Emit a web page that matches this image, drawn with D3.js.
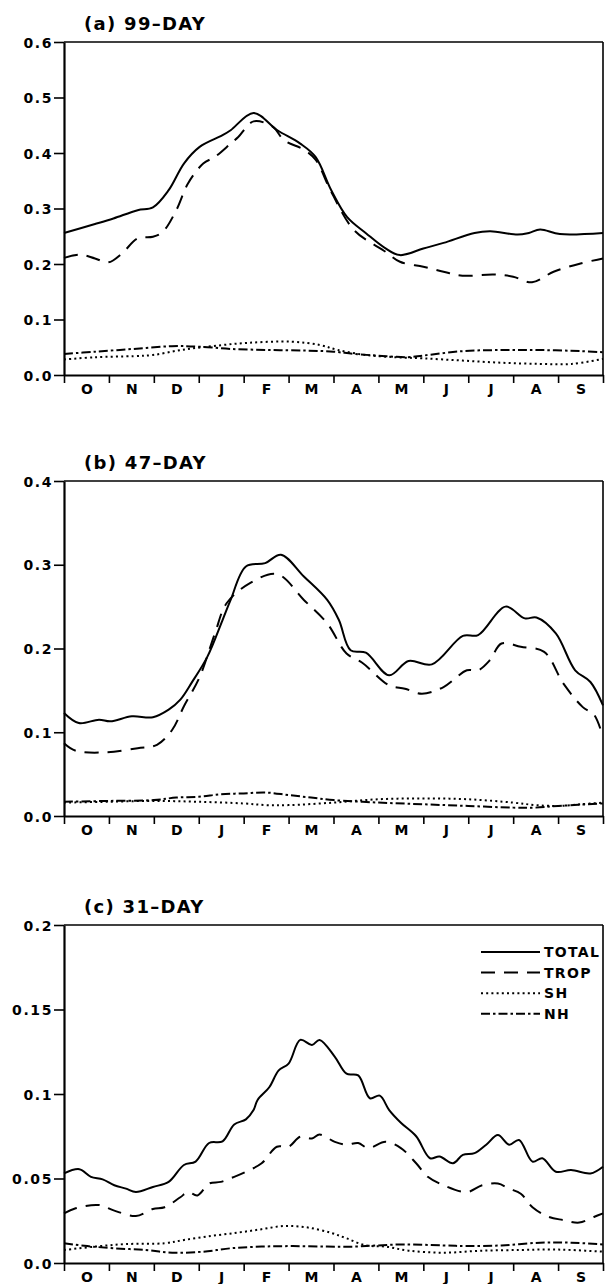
<!DOCTYPE html>
<html><head><meta charset="utf-8">
<script src="https://cdn.jsdelivr.net/npm/d3@7"></script>
<style>
html,body{margin:0;padding:0;background:#fff;}
svg{display:block;}
text{font-family:"DejaVu Sans",sans-serif;font-weight:bold;fill:#000;}
</style></head>
<body>
<script>
// ---- data: x = months since 1 Oct, y = value ----
const months = ["O","N","D","J","F","M","A","M","J","J","A","S"];
const seriesNames = ["TOTAL","TROP","SH","NH"];
const panelTitles = ["(a) 99\u2013DAY","(b) 47\u2013DAY","(c) 31\u2013DAY"];
const yMaxes = [0.6, 0.4, 0.2];
const yTicksA = [0,0.1,0.2,0.3,0.4,0.5,0.6];
const yTicksB = [0,0.1,0.2,0.3,0.4];
const yTicksC = [0,0.05,0.1,0.15,0.2];
const yLabelsA = ["0.0","0.1","0.2","0.3","0.4","0.5","0.6"];
const yLabelsB = ["0.0","0.1","0.2","0.3","0.4"];
const yLabelsC = ["0.0","0.05","0.1","0.15","0.2"];

const totalA = [[0,0.256],[0.69,0.272],[1.1,0.282],[1.64,0.297],[1.98,0.302],[2.33,0.333],[2.67,0.381],[3.02,0.411],[3.53,0.432],[3.71,0.441],[4.22,0.472],[4.75,0.441],[5.26,0.417],[5.6,0.393],[5.95,0.333],[6.3,0.285],[6.73,0.255],[7.16,0.228],[7.48,0.216],[8.0,0.228],[8.45,0.238],[9.14,0.256],[9.49,0.259],[10.1,0.253],[10.35,0.256],[10.6,0.262],[11.04,0.254],[12,0.256]];
const tropA = [[0,0.211],[0.35,0.217],[0.69,0.210],[0.99,0.203],[1.29,0.219],[1.64,0.246],[1.98,0.249],[2.2,0.258],[2.5,0.297],[2.76,0.345],[3.1,0.381],[3.36,0.393],[3.71,0.417],[3.88,0.429],[4.22,0.457],[4.65,0.447],[4.9,0.423],[5.34,0.406],[5.6,0.388],[5.95,0.330],[6.46,0.261],[7.16,0.222],[7.48,0.204],[8.0,0.195],[8.45,0.186],[8.87,0.179],[9.58,0.181],[10.0,0.177],[10.42,0.167],[10.9,0.186],[11.5,0.201],[12,0.210]];
const shA = [[0,0.028],[0.69,0.032],[1.55,0.034],[1.98,0.036],[2.6,0.045],[3.3,0.052],[4.1,0.058],[5.07,0.060],[5.7,0.054],[6.1,0.045],[6.73,0.036],[7.4,0.032],[8.0,0.030],[8.87,0.026],[9.76,0.022],[10.6,0.020],[11.3,0.020],[12,0.029]];
const nhA = [[0,0.038],[0.69,0.042],[1.55,0.047],[2.4,0.052],[3.02,0.051],[3.7,0.047],[4.57,0.045],[5.4,0.044],[6.0,0.042],[6.46,0.038],[7.16,0.034],[7.66,0.032],[8.0,0.035],[8.87,0.043],[9.76,0.045],[10.6,0.045],[11.5,0.043],[12,0.041]];

const totalB = [[0,0.123],[0.33,0.111],[0.78,0.115],[1.03,0.113],[1.51,0.119],[1.98,0.118],[2.33,0.127],[2.59,0.139],[2.84,0.159],[3.19,0.190],[3.53,0.234],[3.71,0.258],[4.05,0.298],[4.48,0.302],[4.83,0.312],[5.34,0.286],[5.86,0.258],[6.12,0.234],[6.38,0.198],[6.72,0.195],[7.24,0.168],[7.67,0.185],[8.19,0.181],[8.88,0.215],[9.22,0.216],[9.83,0.250],[10.26,0.236],[10.52,0.237],[10.95,0.218],[11.38,0.174],[11.72,0.160],[12,0.132]];
const tropB = [[0,0.087],[0.26,0.078],[0.95,0.076],[1.64,0.081],[2.07,0.085],[2.41,0.103],[2.67,0.131],[3.02,0.166],[3.36,0.218],[3.62,0.254],[4.14,0.278],[4.74,0.289],[5.34,0.258],[5.86,0.230],[6.29,0.194],[6.64,0.183],[7.24,0.156],[7.59,0.152],[7.97,0.146],[8.45,0.154],[8.97,0.174],[9.22,0.174],[9.48,0.186],[9.74,0.206],[10.17,0.202],[10.69,0.196],[11.12,0.158],[11.55,0.130],[11.8,0.121],[12,0.094]];
const shB = [[0,0.016],[1,0.017],[2,0.018],[3,0.017],[4,0.015],[4.5,0.013],[5,0.013],[6,0.016],[7,0.020],[8,0.021],[9,0.020],[10,0.016],[10.5,0.013],[11,0.012],[11.5,0.014],[12,0.016]];
const nhB = [[0,0.017],[1,0.018],[2,0.019],[2.5,0.022],[3,0.023],[3.5,0.026],[4,0.027],[4.5,0.028],[5,0.025],[5.5,0.022],[6,0.019],[7,0.016],[8,0.014],[9,0.012],[10,0.010],[10.5,0.010],[11,0.012],[12,0.015]];

const totalC = [[0,0.053],[0.34,0.0555],[0.6,0.051],[0.86,0.0495],[1.12,0.046],[1.38,0.044],[1.6,0.042],[1.98,0.045],[2.33,0.048],[2.67,0.058],[2.93,0.060],[3.23,0.071],[3.53,0.072],[3.79,0.082],[4.05,0.085],[4.22,0.0905],[4.31,0.0965],[4.57,0.104],[4.78,0.114],[5.0,0.118],[5.26,0.132],[5.52,0.129],[5.69,0.132],[6.03,0.122],[6.29,0.112],[6.55,0.111],[6.81,0.0975],[7.03,0.099],[7.24,0.0905],[7.5,0.083],[7.84,0.075],[8.15,0.062],[8.36,0.063],[8.66,0.059],[8.88,0.064],[9.14,0.065],[9.4,0.070],[9.66,0.0757],[9.91,0.070],[10.13,0.0728],[10.43,0.060],[10.65,0.062],[10.95,0.054],[11.29,0.055],[11.72,0.053],[12,0.057]];
const tropC = [[0,0.0294],[0.26,0.0324],[0.78,0.0343],[1.12,0.031],[1.6,0.0278],[1.98,0.032],[2.24,0.033],[2.59,0.0389],[2.76,0.042],[2.97,0.040],[3.23,0.047],[3.49,0.048],[3.79,0.051],[4.05,0.054],[4.4,0.059],[4.74,0.0688],[5.0,0.0688],[5.26,0.0747],[5.52,0.0737],[5.69,0.076],[6.03,0.0717],[6.29,0.070],[6.55,0.071],[6.77,0.068],[7.16,0.0717],[7.5,0.068],[7.84,0.059],[8.1,0.051],[8.45,0.046],[8.97,0.042],[9.31,0.046],[9.66,0.047],[9.91,0.044],[10.17,0.041],[10.43,0.033],[10.78,0.0274],[11.12,0.0254],[11.47,0.0239],[11.81,0.0274],[12,0.0294]];
const shC = [[0,0.0077],[0.69,0.0097],[1.38,0.0112],[2.24,0.0117],[2.67,0.0136],[3.28,0.016],[3.88,0.018],[4.4,0.020],[4.91,0.0219],[5.43,0.021],[5.95,0.0178],[6.29,0.0146],[6.72,0.0104],[7.16,0.0097],[7.67,0.0073],[8.45,0.0061],[9.31,0.0073],[10.17,0.0077],[10.78,0.008],[11.3,0.0077],[12,0.0067]];
const nhC = [[0,0.0117],[0.52,0.010],[1.12,0.0087],[1.81,0.0077],[2.41,0.0061],[3.1,0.0067],[3.71,0.0087],[4.4,0.0097],[5.09,0.010],[5.86,0.0097],[6.47,0.0097],[6.98,0.0104],[7.59,0.011],[8.45,0.0104],[8.97,0.010],[9.74,0.0104],[10.6,0.012],[11.3,0.012],[12,0.011]];

// ---- layout ----
const W = 606, H = 1284;
const left = 64, right = 603;
const panels = [
  {top:42, bottom:375, yMax:yMaxes[0], ticks:yTicksA, labels:yLabelsA, title:panelTitles[0], data:[totalA,tropA,shA,nhA], legend:false},
  {top:481, bottom:816, yMax:yMaxes[1], ticks:yTicksB, labels:yLabelsB, title:panelTitles[1], data:[totalB,tropB,shB,nhB], legend:false},
  {top:925, bottom:1263, yMax:yMaxes[2], ticks:yTicksC, labels:yLabelsC, title:panelTitles[2], data:[totalC,tropC,shC,nhC], legend:true}
];
const dashes = [null, "14,9", "2,3.2", "9,3,2.5,3"];

const svg = d3.select("body").append("svg").attr("width",W).attr("height",H);
const x = d3.scaleLinear().domain([0,12]).range([left,right]);

panels.forEach(p => {
  const y = d3.scaleLinear().domain([0,p.yMax]).range([p.bottom,p.top]);
  const g = svg.append("g");

  // curves
  const line = d3.line().x(d=>x(d[0])).y(d=>y(d[1])).curve(d3.curveCatmullRom.alpha(0.5));
  p.data.forEach((s,i) => {
    g.append("path").datum(s).attr("d",line)
      .attr("fill","none").attr("stroke","#000").attr("stroke-width",2)
      .attr("stroke-linejoin","round")
      .attr("stroke-dasharray",dashes[i]);
  });

  // frame top/right
  g.append("line").attr("x1",left).attr("x2",right).attr("y1",p.top).attr("y2",p.top)
    .attr("stroke","#000").attr("stroke-width",1.6);
  g.append("line").attr("x1",right).attr("x2",right).attr("y1",p.top).attr("y2",p.bottom)
    .attr("stroke","#000").attr("stroke-width",1.6);

  // y axis
  const ya = d3.axisLeft(y).tickValues(p.ticks)
    .tickFormat((d,i)=>p.labels[i]).tickSize(10).tickSizeOuter(0).tickPadding(1);
  const yg = g.append("g").attr("transform",`translate(${left},0)`).call(ya);
  yg.select(".domain").attr("stroke-width",2.2);
  yg.selectAll(".tick line").attr("stroke-width",1.6);
  yg.selectAll("text").style("font-size","14px").style("letter-spacing","1.6px")
    .attr("dy","0.36em").attr("font-family",null).attr("fill","#000");

  // x axis: ticks at month boundaries
  const xa = d3.axisBottom(x).tickValues(d3.range(0,13)).tickFormat("").tickSize(8).tickSizeOuter(0);
  const xg = g.append("g").attr("transform",`translate(0,${p.bottom})`).call(xa);
  xg.select(".domain").attr("stroke-width",2.2);
  xg.selectAll(".tick line").attr("stroke-width",1.6);
  // month labels at mid-month
  const xl = d3.axisBottom(x).tickValues(d3.range(0,12).map(m=>m+0.5))
    .tickFormat((d,i)=>months[i]).tickSize(0).tickPadding(9);
  const xlg = g.append("g").attr("transform",`translate(0,${p.bottom})`).call(xl);
  xlg.select(".domain").remove();
  xlg.selectAll("text").style("font-size","14px").attr("font-family",null).attr("fill","#000");

  // title
  g.append("text").attr("x",84).attr("y",p.top-12).text(p.title)
    .style("font-size","18px").style("letter-spacing","1.3px");

  if (p.legend) {
    const ly0 = 952;
    seriesNames.forEach((n,i) => {
      const yy = ly0 + i*20.6;
      g.append("line").attr("x1",481).attr("x2",540).attr("y1",yy).attr("y2",yy)
        .attr("stroke","#000").attr("stroke-width",2).attr("stroke-dasharray",dashes[i]);
      g.append("text").attr("x",544).attr("y",yy).attr("dy","0.36em").text(n)
        .style("font-size","14px").style("letter-spacing","1.3px");
    });
  }
});
</script>
</body></html>
